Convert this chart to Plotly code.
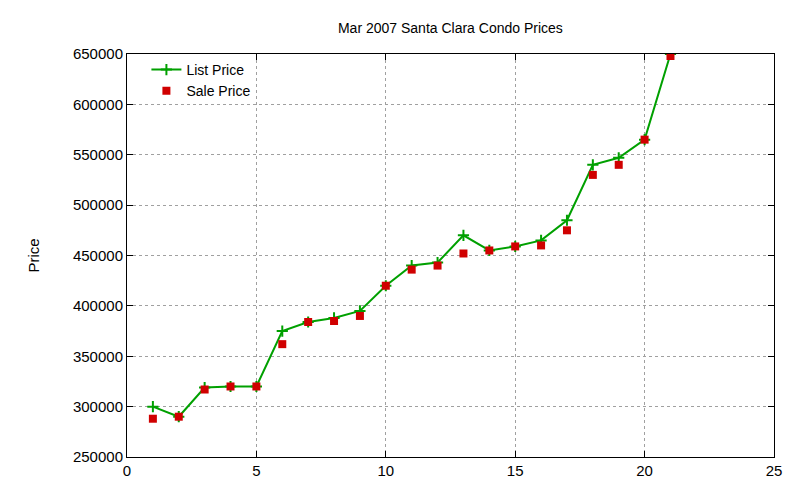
import plotly.graph_objects as go

x = list(range(1, 22))
list_price = [300000, 290000, 319000, 320000, 320000, 375000, 384000, 388000, 395000, 420000,
              440000, 443000, 470000, 455000, 459000, 465000, 485000, 540000, 547000, 565000, 650000]
sale_price = [288000, 290000, 317000, 320000, 320000, 362000, 384000, 385000, 390000, 420000,
              436000, 440000, 452000, 455000, 459000, 460000, 475000, 530000, 540000, 565000, 648000]

fig = go.Figure()
fig.add_trace(go.Scatter(x=x, y=list_price, name="List Price", mode="lines+markers",
                         line=dict(color="#00a000", width=2),
                         marker=dict(symbol="cross-thin", size=8, line=dict(color="#00a000", width=2))))
fig.add_trace(go.Scatter(x=x, y=sale_price, name="Sale Price", mode="markers",
                         marker=dict(symbol="square", size=8, color="#d00000")))

ax = dict(showline=True, mirror="ticks", linecolor="black", linewidth=1, ticks="inside",
          tickcolor="black", ticklen=6, showgrid=True, gridcolor="#a0a0a0", griddash="dot",
          gridwidth=1, zeroline=False, tickfont=dict(size=15, color="black"), automargin=False)
fig.update_layout(
    width=800, height=480, plot_bgcolor="white", paper_bgcolor="white",
    font=dict(family="Liberation Sans, Arial", color="black"),
    title=dict(text="Mar 2007 Santa Clara Condo Prices", x=0.553, xanchor="center",
               y=0.958, yanchor="middle", font=dict(size=14)),
    margin=dict(l=119, r=34, t=46, b=31),
    xaxis=dict(range=[0, 25], dtick=5, **ax),
    yaxis=dict(range=[250000, 650000], dtick=50000, tickformat="d", **ax),
    legend=dict(x=0.03, y=1.0, bgcolor="rgba(0,0,0,0)", font=dict(size=14)),
    showlegend=True,
    annotations=[dict(text="Price", xref="paper", yref="paper", x=-0.16, y=0.5,
                      textangle=-90, showarrow=False, font=dict(size=15))],
)
fig.write_html("out.html")
